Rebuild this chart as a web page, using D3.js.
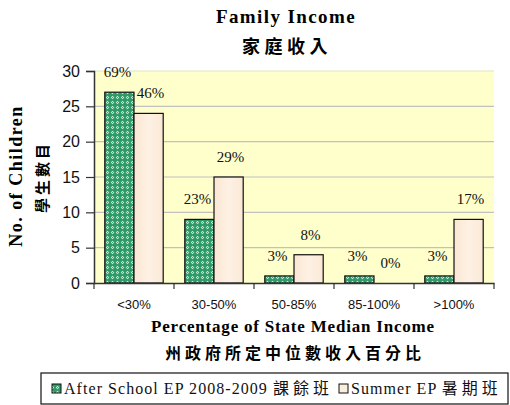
<!DOCTYPE html>
<html><head><meta charset="utf-8">
<script src="https://cdn.jsdelivr.net/npm/d3@7"></script>
<style>body{margin:0;background:#fff}svg{display:block}</style>
</head><body>
<script>
const categories = ["<30%","30-50%","50-85%","85-100%",">100%"];
const afterSchool = [27, 9, 1, 1, 1];
const summer = [24, 15, 4, 0, 9];
const afterLabels = ["69%","23%","3%","3%","3%"];
const summerLabels = ["46%","29%","8%","0%","17%"];
const yTicks = [0,5,10,15,20,25,30];
const seriesLatin = ["After School EP 2008-2009","Summer EP"];
const seriesCJK = ["課餘班","暑期班"];

const W=510,H=405;
const svg=d3.select("body").append("svg").attr("width",W).attr("height",H);
const defs=svg.append("defs");
const pat=defs.append("pattern").attr("id","gp").attr("patternUnits","userSpaceOnUse").attr("width",5).attr("height",5);
pat.append("rect").attr("width",5).attr("height",5).attr("fill","#2f9a68");
pat.append("path").attr("d","M2.5,0.8 L4.2,2.5 L2.5,4.2 L0.8,2.5Z").attr("fill","#cfeedd");
pat.append("rect").attr("x",2).attr("y",2).attr("width",1).attr("height",1).attr("fill","#3aa36f");
const grad=defs.append("linearGradient").attr("id","bg").attr("x1",0).attr("x2",1);
grad.append("stop").attr("offset",0).attr("stop-color","#fbe6d2");
grad.append("stop").attr("offset",0.5).attr("stop-color","#fdf1e4");
grad.append("stop").attr("offset",1).attr("stop-color","#fbe9d6");

const L=94,R=494,T=71,B=283;
const x=d3.scaleBand().domain(categories).range([L,R]).padding(0);
const sub=d3.scaleBand().domain([0,1]).range([0,x.bandwidth()]).paddingOuter(17/46).paddingInner(0);
const y=d3.scaleLinear().domain([0,30]).range([B,T]);

svg.append("rect").attr("x",L).attr("y",T).attr("width",R-L).attr("height",B-T).attr("fill","#ffffcc");
svg.append("g").selectAll("line").data(yTicks.filter(d=>d>0)).join("line")
  .attr("x1",L).attr("x2",R).attr("y1",d=>y(d)).attr("y2",d=>y(d))
  .attr("stroke",d=>d===30?"#e4e4c0":"#c0c0c0").attr("stroke-width",1.2);

const series=[{vals:afterSchool,labs:afterLabels,fill:"url(#gp)"},{vals:summer,labs:summerLabels,fill:"url(#bg)"}];
series.forEach((s,i)=>{
  const g=svg.append("g");
  g.selectAll("rect").data(categories).join("rect")
    .attr("x",(c)=>x(c)+sub(i)).attr("width",sub.bandwidth())
    .attr("y",(c,j)=>y(s.vals[j])).attr("height",(c,j)=>B-y(s.vals[j]))
    .attr("fill",s.fill).attr("stroke","#111").attr("stroke-width",1.2)
    .attr("display",(c,j)=>s.vals[j]>0?null:"none");
  g.selectAll("text").data(categories).join("text")
    .attr("x",(c)=>x(c)+sub(i)+sub.bandwidth()/2 + (i===0?-2:2))
    .attr("y",(c,j)=>y(s.vals[j])-15)
    .attr("text-anchor","middle").attr("font-family","Liberation Serif").attr("font-size",15).attr("fill","#111")
    .text((c,j)=>s.labs[j]);
});

const ya=svg.append("g").attr("transform",`translate(${L},0)`)
  .call(d3.axisLeft(y).tickValues(yTicks).tickSize(8).tickPadding(6));
ya.select(".domain").attr("stroke","#333").attr("stroke-width",1.5);
ya.selectAll(".tick line").attr("stroke","#333").attr("stroke-width",1.2);
ya.selectAll("text").attr("font-family","Liberation Sans").attr("font-size",16).attr("fill","#111");

const xa=svg.append("g").attr("transform",`translate(0,${B})`)
  .call(d3.axisBottom(x).tickSize(0).tickPadding(17));
xa.select(".domain").attr("stroke","#333").attr("stroke-width",1.5);
xa.selectAll("text").attr("font-family","Liberation Sans").attr("font-size",13).attr("fill","#111");
svg.append("g").selectAll("line").data(categories.concat(["end"])).join("line")
  .attr("x1",(c,i)=>i<categories.length?x(c):R).attr("x2",(c,i)=>i<categories.length?x(c):R)
  .attr("y1",B).attr("y2",B+6).attr("stroke","#333").attr("stroke-width",1.2);

// titles
svg.append("text").attr("x",286).attr("y",23).attr("text-anchor","middle")
  .attr("font-family","Liberation Serif").attr("font-weight","bold").attr("font-size",19).attr("letter-spacing",1.4).text("Family Income");
svg.append("text").attr("x",287).attr("y",53).attr("text-anchor","middle")
  .attr("font-family","Noto Sans CJK TC").attr("font-weight","bold").attr("font-size",18).attr("letter-spacing",4.5).text("家庭收入");
svg.append("text").attr("x",293).attr("y",332).attr("text-anchor","middle")
  .attr("font-family","Liberation Serif").attr("font-weight","bold").attr("font-size",17).attr("letter-spacing",0.8).text("Percentage of State Median Income");
svg.append("text").attr("x",295).attr("y",359).attr("text-anchor","middle")
  .attr("font-family","Noto Sans CJK TC").attr("font-weight","bold").attr("font-size",16).attr("letter-spacing",4).text("州政府所定中位數收入百分比");
svg.append("text").attr("transform","translate(22,176) rotate(-90)").attr("text-anchor","middle")
  .attr("font-family","Liberation Serif").attr("font-weight","bold").attr("font-size",18).attr("letter-spacing",1.5).text("No. of Children");
svg.append("text").attr("transform","translate(48,177) rotate(-90)").attr("text-anchor","middle")
  .attr("font-family","Noto Sans CJK TC").attr("font-weight","bold").attr("font-size",15).attr("letter-spacing",3).text("學生數目");

// legend
const lg=svg.append("g");
lg.append("rect").attr("x",41).attr("y",373).attr("width",467).attr("height",31).attr("fill","#fff").attr("stroke","#111").attr("stroke-width",1.2);
const legX=[52,339];
seriesLatin.forEach((n,i)=>{
  lg.append("rect").attr("x",legX[i]).attr("y",384).attr("width",9).attr("height",9)
    .attr("fill",i===0?"url(#gp)":"#fbeedd").attr("stroke","#111").attr("stroke-width",1);
  const t=lg.append("text").attr("x",legX[i]+12).attr("y",394).attr("fill","#111");
  t.append("tspan").attr("font-family","Liberation Serif").attr("font-size",16).attr("letter-spacing",1.05).text(n+" ");
  t.append("tspan").attr("font-family","Noto Sans CJK TC").attr("font-size",16).attr("letter-spacing",4).text(seriesCJK[i]);
});
</script>
</body></html>
